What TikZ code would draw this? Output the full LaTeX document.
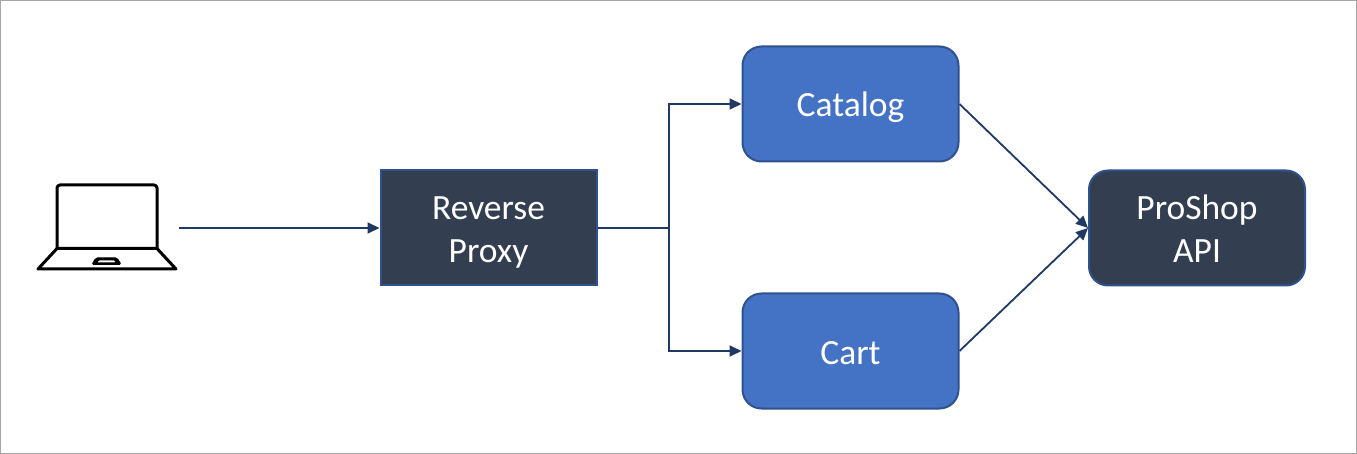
\documentclass[tikz,border=0pt]{standalone}
\usepackage{fontspec}
\setmainfont{Carlito}
\usetikzlibrary{arrows.meta}
\definecolor{navy}{HTML}{1F3864}
\definecolor{slate}{HTML}{333F50}
\definecolor{blueb}{HTML}{4472C4}
\definecolor{edgeb}{HTML}{2F528F}
\newcommand{\tophold}{\rule{0pt}{34pt}}
\newcommand{\bothold}{\rule[-8pt]{0pt}{8pt}}
\tikzset{
 x=1pt,y=-1pt,
 box/.style={draw=edgeb,line width=2pt,text=white,align=center,font=\fontsize{35.5}{43}\selectfont,minimum width=216pt,minimum height=115pt,inner sep=0pt},
 dark/.style={box,fill=slate},
 svc/.style={box,fill=blueb,rounded corners=19pt},
 conn/.style={draw=navy,line width=1.8pt,-{Triangle[length=12pt,width=11pt]}},
 plain/.style={draw=navy,line width=1.8pt},
 ico/.style={draw=black,line width=3pt,line join=round,line cap=round}
}
\begin{document}
\begin{tikzpicture}
\useasboundingbox (0,0) rectangle (1357,454);
\draw[draw=black!35,line width=1pt] (0.5,0.5) rectangle (1356.5,453.5);
\node[dark] (proxy) at (488.5,228) {\tophold Reverse\\Proxy\bothold};
\node[svc] (catalog) at (850.5,104) {\tophold Catalog\bothold};
\node[svc] (cart) at (850.5,351) {\tophold Cart\bothold};
\node[dark,rounded corners=19pt] (api) at (1197,228) {\tophold ProShop\\API\bothold};
\coordinate (lap) at (179,228);
\coordinate (fork) at (669,228);
\draw[conn] (lap) -- (proxy.west);
\draw[plain] (proxy.east) -- (fork);
\draw[conn] (fork) |- (catalog.west);
\draw[conn] (fork) |- (cart.west);
\draw[conn] (catalog.east) -- (api.west);
\draw[conn] (cart.east) -- (api.west);
\draw[ico,rounded corners=3pt] (57,248.5) -- (57,185) -- (157,185) -- (157,248.5);
\draw[ico] (57,248.5) -- (157,248.5) -- (176,269) -- (38,269) -- cycle;
\draw[draw=black,fill=black,line width=1pt,rounded corners=1.5pt] (96,258) -- (117,258) -- (121,264.5) -- (92,264.5) -- cycle;
\fill[white,rounded corners=1pt] (98.5,260.5) -- (114.5,260.5) -- (115.5,262.5) -- (97.5,262.5) -- cycle;
\end{tikzpicture}
\end{document}
